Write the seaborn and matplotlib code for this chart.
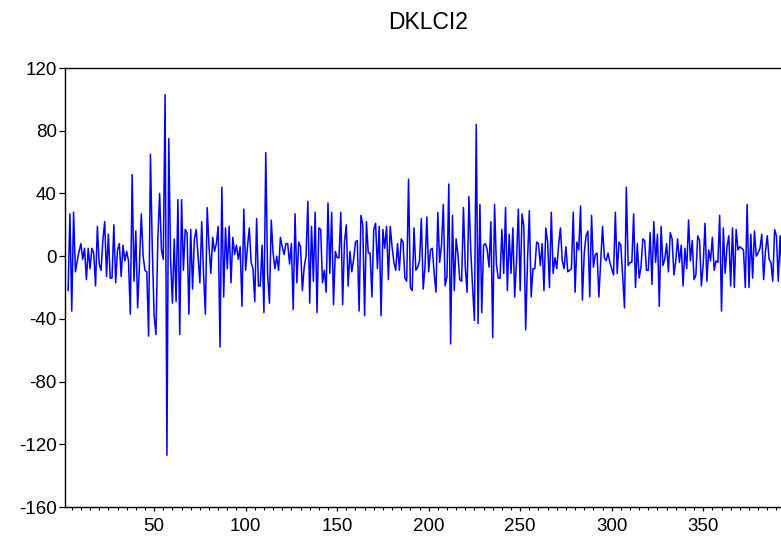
import numpy as np
import pandas as pd
import matplotlib
matplotlib.use("Agg")
import matplotlib.pyplot as plt
import seaborn as sns
from matplotlib.ticker import MultipleLocator

dklci2 = [
    -22, 27, -35, 28, -10, -3, 3, 8, -2, 5, -15, 5, -8, 5, 2, -19, 19, -5, -9, 10,
    22, -13, 14, -14, -14, 20, -17, 4, 8, -13, 7, -3, 3, -3, -37, 52, -16, 16, -33, -5,
    27, 0, -9, -10, -51, 65, 5, -38, -50, 10, 40, 4, -2, 103, -127, 75, -2, -30, 11, -29,
    36, -50, 36, -9, 17, 15, -37, 17, -21, 11, 17, 0, -17, 22, -11, -37, 31, 6, -11, 12,
    3, 8, 19, -58, 44, -26, 18, -8, 19, -17, 12, 1, 7, -2, 6, -32, 30, -9, 6, 18,
    -4, -8, -29, 24, -19, -19, 7, -36, 66, -11, -30, 23, 2, -8, 0, -9, 12, 6, 1, 8,
    8, -5, 8, -34, 27, -17, 9, 6, -22, -7, 0, 35, -30, 19, -16, 28, -36, 18, 17, -17,
    -9, -23, 34, -11, 28, -31, 3, -1, -1, 28, -31, 9, 20, -19, 3, -10, -2, 9, 10, -35,
    26, 20, -38, 22, 2, 2, -26, 17, 21, -8, 19, -38, 17, 5, 19, -15, 19, 6, -4, -9,
    8, -9, 11, 9, -14, -16, 49, -20, -22, 18, -9, -7, -3, 24, -21, -7, 25, -10, 4, 5,
    -11, -23, 28, -4, 7, 33, -19, -13, 46, -56, 26, -22, 11, 1, -15, -16, 31, -7, -23, 38,
    4, -20, -41, 84, -43, 33, -36, 7, 8, 4, -7, 22, -52, 33, -5, -14, -14, 17, -11, 31,
    -22, 14, -11, 18, -26, -3, 30, -22, 27, 19, -47, -3, 29, -26, -8, -8, 9, 8, -6, 8,
    -22, 18, 9, -20, 28, -11, -1, -8, 7, 18, -3, -8, 6, -10, -9, -8, 28, -23, 9, 4,
    32, -28, 2, 13, 16, -26, 26, -7, 1, 2, -26, -3, 19, -1, -3, 2, -4, -8, -12, 28,
    -11, 9, 7, -13, -33, 44, -6, -4, -4, 27, -20, 8, -14, -7, 11, 10, -9, -9, 15, -18,
    22, -4, 14, -32, 19, -6, -2, 8, -10, 15, 11, -12, -3, 11, -4, 7, -19, 5, -8, 23,
    -3, 10, -15, -12, 13, 10, -19, -5, 21, -16, 4, -3, 12, -9, -3, -4, 26, -35, 18, -11,
    6, 13, -19, 18, -20, 17, 4, 6, 5, 4, -20, 33, -20, 14, -14, 16, 0, 2, 5, 14,
    -15, 3, 13, -2, -4, -16, 17, 13, -16, 13, -10,
]
obs = np.arange(3, 3 + len(dklci2))
y_ticks = [-160, -120, -80, -40, 0, 40, 80, 120]
x_ticks = [50, 100, 150, 200, 250, 300, 350]

df = pd.DataFrame({"obs": obs, "DKLCI2": dklci2})

sns.set_theme(style="ticks")
plt.rcParams["font.family"] = ["Liberation Sans", "DejaVu Sans"]
plt.rcParams["axes.unicode_minus"] = False

fig = plt.figure(figsize=(7.81, 5.41), dpi=100)
ax = fig.add_axes([0.0832, 0.0628, 0.925, 0.8115])

sns.lineplot(data=df, x="obs", y="DKLCI2", color="#0000FF", linewidth=1.1, ax=ax)

ax.set_xlim(1.3, 396)
ax.set_ylim(-160, 120)
ax.set_yticks(y_ticks)
ax.set_xticks(x_ticks)
ax.xaxis.set_minor_locator(MultipleLocator(5))
ax.tick_params(axis="y", which="major", direction="out", length=4, width=0.9,
               labelsize=13.5, colors="black", pad=2)
ax.tick_params(axis="x", which="major", direction="out", length=3, width=0.9,
               labelsize=13.5, colors="black", pad=5)
ax.tick_params(axis="x", which="minor", direction="out", length=2, width=0.8, colors="black")
ax.set_xlabel("")
ax.set_ylabel("")
for sp in ax.spines.values():
    sp.set_color("black")
    sp.set_linewidth(1.0)

fig.text(0.548, 0.958, "DKLCI2", ha="center", va="center", fontsize=16.5, color="black")

fig.savefig("out.png", dpi=100)
